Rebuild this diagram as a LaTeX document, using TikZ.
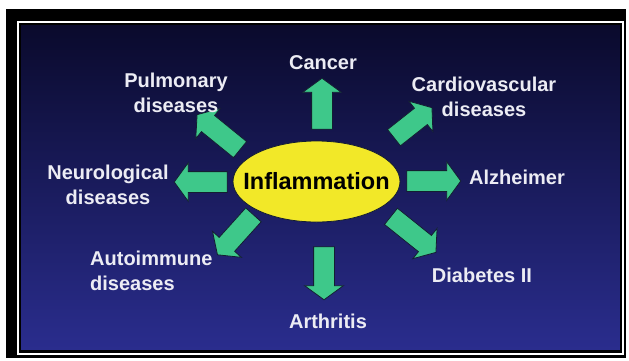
\documentclass[tikz,border=0pt]{standalone}
\usepackage{fontspec}
\setmainfont{Liberation Sans}
\usetikzlibrary{shapes.geometric,shapes.arrows}
\definecolor{arrowgreen}{RGB}{62,200,138}
\definecolor{ellyellow}{RGB}{242,232,40}
\definecolor{panelTop}{RGB}{10,10,44}
\definecolor{panelMid}{RGB}{28,28,100}
\definecolor{panelBot}{RGB}{42,45,142}
\definecolor{labelwhite}{RGB}{236,236,244}
\definecolor{outlinedark}{RGB}{20,30,50}
\begin{document}
\begin{tikzpicture}[x=1pt,y=-1pt,
  disease/.style={text=labelwhite, font=\bfseries\fontsize{20}{25}\selectfont, align=center, inner sep=0pt},
  blockarrow/.style={single arrow, fill=arrowgreen, draw=outlinedark, line width=0.8pt,
    inner xsep=0pt, inner ysep=10pt, single arrow head extend=9pt,
    single arrow tip angle=108, minimum width=0pt},
]
\useasboundingbox (0,0) rectangle (629,360);
\fill[white] (0,0) rectangle (629,360);
\fill[black] (6,9) rectangle (626,358);
\draw[white, line width=2.5pt] (18,22) rectangle (623,354);
\shade[top color=panelTop, middle color=panelMid, bottom color=panelBot] (20,24) rectangle (621,351);
\draw[black, line width=1.2pt] (20,24) rectangle (621,351);

\node[ellipse, fill=ellyellow, draw=outlinedark, line width=0.8pt, minimum width=167pt,
  minimum height=81pt, inner sep=0pt] (infl) at (316.5,181.5) {};
\node[inner sep=0pt, font=\bfseries\fontsize{23.5}{28}\selectfont] (infltext) at (infl.center) {Inflammation};

\node[blockarrow, minimum height=51pt, rotate=90] (aup) at (322,107.5) {};
\node[blockarrow, minimum height=53pt, rotate=-90] (adown) at (324,269.5) {};
\node[blockarrow, minimum height=53pt, rotate=180] (aleft) at (204.5,182) {};
\node[blockarrow, minimum height=54pt, rotate=0] (aright) at (430,181) {};
\node[blockarrow, minimum height=48.4pt, rotate=38.3] (aur) at (410,125) {};
\node[blockarrow, minimum height=55.4pt, rotate=140.9] (aul) at (221.5,134.5) {};
\node[blockarrow, minimum height=57.6pt, rotate=-38.7] (adr) at (410.5,232) {};
\node[blockarrow, minimum height=53.8pt, rotate=-132] (adl) at (238,232) {};

\node[disease] (cancer) at (323,63) {Cancer};
\node[disease] (pulm) at (176,92.5) {Pulmonary\\diseases};
\node[disease] (cardio) at (484,96.5) {Cardiovascular\\diseases};
\node[disease] (neuro) at (108,184.5) {Neurological\\diseases};
\node[disease] (alz) at (517,177) {Alzheimer};
\node[disease, align=left, anchor=west] (auto) at (90,271) {Autoimmune\\diseases};
\node[disease] (diab) at (482,275) {Diabetes II};
\node[disease] (arth) at (328,321) {Arthritis};
\end{tikzpicture}
\end{document}
